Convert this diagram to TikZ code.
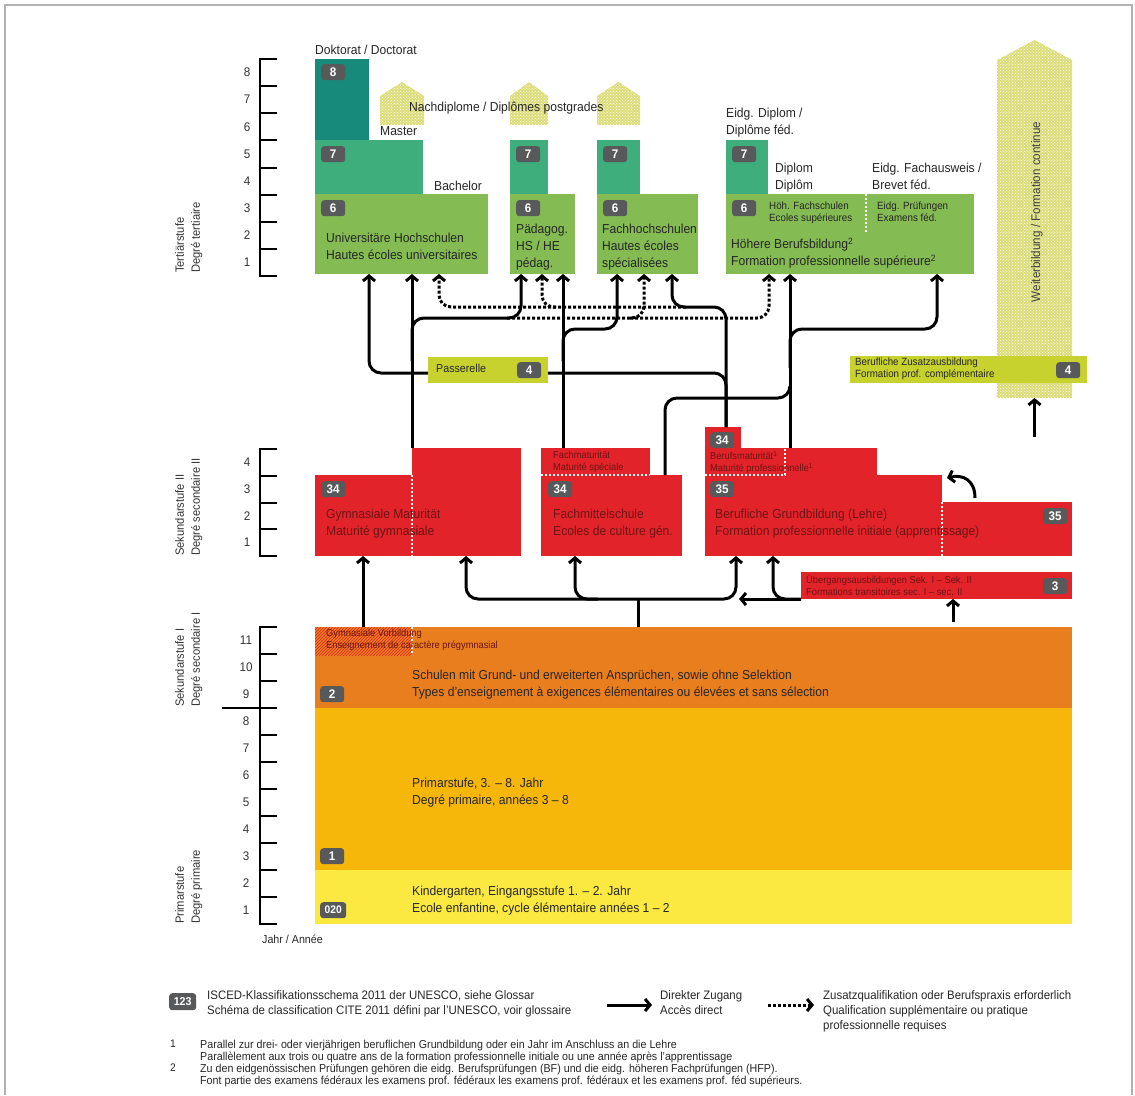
\documentclass[tikz,border=0pt]{standalone}
\usepackage{fontspec}
\setmainfont{Liberation Sans}[FakeStretch=0.93]
\usetikzlibrary{arrows.meta,patterns,calc}
\definecolor{tealdark}{HTML}{178A7B}
\definecolor{greenmid}{HTML}{3DAE7C}
\definecolor{greenlight}{HTML}{84BB53}
\definecolor{redbox}{HTML}{E2232A}
\definecolor{reddark}{HTML}{6E1414}
\definecolor{orangebox}{HTML}{E87E1E}
\definecolor{amberbox}{HTML}{F6B70A}
\definecolor{yellowbox}{HTML}{FBE941}
\definecolor{limebox}{HTML}{C8D22F}
\definecolor{hatchyellow}{HTML}{DCDC78}
\definecolor{badgegray}{HTML}{58595B}

\begin{document}
\begin{tikzpicture}[x=1pt,y=-1pt,>={Straight Barb[length=5pt,width=12pt]},
  blk/.style={inner sep=0pt, outer sep=0pt, anchor=north west},
  badge/.style={fill=badgegray, rounded corners=3pt, text=white,
    font=\fontsize{12.5}{12.5}\selectfont\bfseries, minimum width=24,
    minimum height=16, inner sep=0pt, anchor=north west},
  txt/.style={anchor=north west, inner sep=0pt, align=left, text=black!85,
    font=\fontsize{13}{17}\selectfont},
  small/.style={txt, font=\fontsize{10.5}{12}\selectfont},
  tiny/.style={txt, font=\fontsize{10}{12}\selectfont},
  num/.style={font=\fontsize{12.5}{12.5}\selectfont, text=black!80},
  stage/.style={rotate=90, anchor=north west, align=left, inner sep=0pt,
    font=\fontsize{12}{16}\selectfont, text=black!80},
  conn/.style={line width=3pt, rounded corners=12pt},
  dconn/.style={conn, dash pattern=on 3pt off 2pt},
  wdot/.style={white, line width=2pt, dash pattern=on 2pt off 2pt},
  hatchfill/.style={fill=hatchyellow, postaction={pattern=crosshatch dots, pattern color=white}},
  tick/.style={line width=2pt}]

\useasboundingbox (0,0) rectangle (1135,1095);
\draw[gray!60, line width=1.5pt] (5,1095) -- (5,5) -- (1132,5) -- (1132,1095);

% --- scales
\draw[tick] (277,59) -- (260,59) -- (260,276) -- (277,276);
\foreach \n in {1,...,7} \draw[tick] (260,59+27.125*\n) -- (277,59+27.125*\n);
\foreach \n in {1,...,8} \node[num] at (247,276-27.125*\n+13.56) {\n};
\draw[tick] (277,449) -- (260,449) -- (260,556) -- (277,556);
\foreach \n in {1,2,3} \draw[tick] (260,556-26.75*\n) -- (277,556-26.75*\n);
\foreach \n in {1,...,4} \node[num] at (247,556-26.75*\n+13.4) {\n};
\draw[tick] (277,627) -- (260,627) -- (260,924) -- (277,924);
\foreach \n in {1,...,10} \draw[tick] (260,924-27*\n) -- (277,924-27*\n);
\draw[tick] (222,708) -- (260,708);
\foreach \n in {1,...,11} \node[num] at (246,924-27*\n+13.5) {\n};
\node[txt, font=\fontsize{11.5}{13}\selectfont] (jahr) at (262,935) {Jahr / Année};

\node[stage] (ter) at (175,273) {Tertiärstufe\\Degré tertiaire};
\node[stage] (sek2) at (175,556) {Sekundarstufe II\\Degré secondaire II};
\node[stage] (sek1) at (175,707) {Sekundarstufe I\\Degré secondaire I};
\node[stage] (primst) at (175,924) {Primarstufe\\Degré primaire};

% --- Weiterbildung column
\fill[hatchfill] (997,398) -- (997,60) -- (1034.5,40) -- (1072,60) -- (1072,398) -- cycle;
\node[rotate=90, font=\fontsize{12.5}{14}\selectfont, text=black!75] (wbtxt) at (1037,212)
  {Weiterbildung / Formation continue};

% --- tertiary
\fill[hatchfill] (380,125) -- (380,96) -- (402,82) -- (424,96) -- (424,125) -- cycle;
\fill[hatchfill] (510,125) -- (510,96) -- (529,82) -- (548,96) -- (548,125) -- cycle;
\fill[hatchfill] (597,125) -- (597,96) -- (618.5,82) -- (640,96) -- (640,125) -- cycle;
\node[txt] (nachd) at (409,102) {Nachdiplome / Diplômes postgrades};

\node[blk, fill=tealdark, minimum width=54, minimum height=81] (unidr) at (315,59) {};
\node[blk, fill=greenmid, minimum width=108, minimum height=54] (unima) at (315,140) {};
\node[blk, fill=greenlight, minimum width=173, minimum height=80] (uniba) at (315,194) {};
\node[badge] at (321,64) {8};
\node[badge] at (321,146) {7};
\node[badge] at (321,200) {6};
\node[txt] (doktor) at (315,45) {Doktorat / Doctorat};
\node[txt] (master) at (380,126) {Master};
\node[txt] (bachel) at (434,181) {Bachelor};
\node[txt] at (326,233) {Universitäre Hochschulen\\Hautes écoles universitaires};

\node[blk, fill=greenmid, minimum width=38, minimum height=54] (padma) at (510,140) {};
\node[blk, fill=greenlight, minimum width=65, minimum height=80] (padba) at (510,194) {};
\node[badge] at (516,146) {7};
\node[badge] at (516,200) {6};
\node[txt] at (516,224) {Pädagog.\\HS / HE\\pédag.};

\node[blk, fill=greenmid, minimum width=43, minimum height=54] (fhma) at (597,140) {};
\node[blk, fill=greenlight, minimum width=101, minimum height=80] (fhba) at (597,194) {};
\node[badge] at (603,146) {7};
\node[badge] at (603,200) {6};
\node[txt] at (602,224) {Fachhochschulen\\Hautes écoles\\spécialisées};

\node[blk, fill=greenmid, minimum width=42, minimum height=54] (hbbma) at (726,140) {};
\node[blk, fill=greenlight, minimum width=248, minimum height=80] (hbbba) at (726,194) {};
\draw[wdot] (866,194) -- (866,232);
\node[badge] at (732,146) {7};
\node[badge] at (732,200) {6};
\node[txt] at (726,108) {Eidg. Diplom /\\Diplôme féd.};
\node[txt] at (775,163) {Diplom\\Diplôm};
\node[txt] at (872,163) {Eidg. Fachausweis /\\Brevet féd.};
\node[small] at (769,202) {Höh. Fachschulen\\Ecoles supérieures};
\node[small] at (877,202) {Eidg. Prüfungen\\Examens féd.};
\node[txt] at (731,238) {Höhere Berufsbildung\textsuperscript{2}\\Formation professionnelle supérieure\textsuperscript{2}};

% --- secondary II
\node[blk, fill=redbox, minimum width=97, minimum height=81] (gymma) at (315,475) {};
\node[blk, fill=redbox, minimum width=109, minimum height=108] (gymup) at (412,448) {};
\draw[wdot] (412,475) -- (412,556);
\node[badge] at (321,481) {34};
\node[txt, text=reddark] at (326,509) {Gymnasiale Maturität\\Maturité gymnasiale};

\node[blk, fill=redbox, minimum width=109, minimum height=27] (fmup) at (541,448) {};
\node[blk, fill=redbox, minimum width=141, minimum height=81] (fms) at (541,475) {};
\draw[wdot] (541,475) -- (650,475);
\node[badge] at (548,481) {34};
\node[tiny, text=reddark] at (553,451) {Fachmaturität\\Maturité spéciale};
\node[txt, text=reddark] at (553,509) {Fachmittelschule\\Ecoles de culture gén.};

\node[blk, fill=redbox, minimum width=36, minimum height=21] (bm34) at (705,427) {};
\node[blk, fill=redbox, minimum width=172, minimum height=27] (bmup) at (705,448) {};
\node[blk, fill=redbox, minimum width=237, minimum height=81] (bg) at (705,475) {};
\node[blk, fill=redbox, minimum width=130, minimum height=54] (bgr) at (942,502) {};
\draw[wdot] (705,475) -- (785,475) -- (785,448);
\draw[wdot] (942,502) -- (942,556);
\node[badge] at (710,432) {34};
\node[badge] at (710,481) {35};
\node[badge] at (1043,508) {35};
\node[tiny, text=reddark] at (710,451) {Berufsmaturität\textsuperscript{1}\\Maturité professionnelle\textsuperscript{1}};
\node[txt, text=reddark] at (715,509) {Berufliche Grundbildung (Lehre)\\Formation professionnelle initiale (apprentissage)};

\node[blk, fill=redbox, minimum width=271, minimum height=27] (ueb) at (801,572) {};
\node[badge] at (1043,578) {3};
\node[tiny, text=reddark] at (806,575) {Übergangsausbildungen Sek. I – Sek. II\\Formations transitoires sec. I – sec. II};

% --- secondary I and primary
\node[blk, fill=orangebox, minimum width=757, minimum height=81] (sekI) at (315,627) {};
\fill[pattern=north east lines, pattern color=redbox] (315,627) rectangle (412,655);
\draw[wdot] (412,627) -- (412,655);
\node[tiny, text=reddark] at (326,629) {Gymnasiale Vorbildung\\Enseignement de caractère prégymnasial};
\node[badge] at (320,686) {2};
\node[txt] at (412,670) {Schulen mit Grund- und erweiterten Ansprüchen, sowie ohne Selektion\\Types d'enseignement à exigences élémentaires ou élevées et sans sélection};

\node[blk, fill=amberbox, minimum width=757, minimum height=162] (prim) at (315,708) {};
\node[badge] at (320,848) {1};
\node[txt] at (412,778) {Primarstufe, 3. – 8. Jahr\\Degré primaire, années 3 – 8};
\node[blk, fill=yellowbox, minimum width=757, minimum height=54] (kg) at (315,870) {};
\node[badge, minimum width=26, font=\fontsize{11}{11}\selectfont\bfseries] at (320,902) {020};
\node[txt] at (412,886) {Kindergarten, Eingangsstufe 1. – 2. Jahr\\Ecole enfantine, cycle élémentaire années 1 – 2};

% --- connector end points
\coordinate (uniA) at ($(uniba.south west)+(54,0)$);
\coordinate (uniB) at ($(uniba.south west)+(97,0)$);
\coordinate (uniC) at ($(uniba.south west)+(124,0)$);
\coordinate (padA) at ($(padba.south west)+(11,0)$);
\coordinate (padB) at ($(padba.south west)+(32,0)$);
\coordinate (padC) at ($(padba.south west)+(53,0)$);
\coordinate (fhA) at ($(fhba.south west)+(20,0)$);
\coordinate (fhB) at ($(fhba.south west)+(47,0)$);
\coordinate (fhC) at ($(fhba.south west)+(75,0)$);
\coordinate (hbbA) at ($(hbbba.south west)+(43,0)$);
\coordinate (hbbB) at ($(hbbba.south west)+(64,0)$);
\coordinate (hbbC) at ($(hbbba.south west)+(211,0)$);
\coordinate (gymB) at (gymup.north west);
\coordinate (fmA) at ($(fmup.north west)+(22,0)$);
\coordinate (fmsB) at ($(fms.north west)+(124,0)$);
\coordinate (bmA) at ($(bm34.north west)+(21,0)$);
\coordinate (bmB) at ($(bmup.north west)+(85,0)$);
\coordinate (gymC) at ($(gymup.south west)+(54,0)$);
\coordinate (gymD) at ($(gymma.south west)+(48,0)$);
\coordinate (fmsC) at ($(fms.south west)+(34,0)$);
\coordinate (bgC) at ($(bg.south west)+(31,0)$);
\coordinate (bgD) at ($(bg.south west)+(68,0)$);
\coordinate (sekA) at ($(sekI.north west)+(48,0)$);
\coordinate (sekB) at ($(sekI.north west)+(323,0)$);
\coordinate (hub) at ($(sekB)+(0,-28)$);
\coordinate (uebA) at ($(ueb.south west)+(152,23)$);
\coordinate (wbbot) at (1034.5,398);
\coordinate (wbin) at (1034.5,437);
\coordinate (bgrA) at ($(bgr.north west)+(33,-4)$);
\coordinate (bgB) at ($(bg.north east)+(5,3)$);

% --- solid connectors
\draw[conn,->] (bmA) -- ++(0,-54) -| (uniA);
\draw[conn,->] (bmA) -- ++(0,-120) -| (fhC);
\draw[conn,->] (gymB) -- (uniB);
\draw[conn,->] ($(gymB)!0.5!(uniB)$) |- ($(padA)+(0,44)$) -- (padA);
\draw[conn,->] (fmA) -- (padC);
\draw[conn,->] ($(fmA)!0.5!(padC)$) |- ($(fhA)+(0,55)$) -- (fhA);
\draw[conn,->] (bmB) -- (hbbB);
\draw[conn,->] ($(bmB)+(0,-80)$) |- ($(hbbC)+(0,55)$) -- (hbbC);
\draw[conn] (fmsB) |- ($(bmB)+(0,-50)$) -- ++(0,-12);

% --- dotted connectors (branching off the solid ones)
\draw[dconn,->] ($(fhC)+(14,33)$) -| (padB);
\draw[dconn,->] ($(padB)+(14,33)$) -| (uniC);
\draw[dconn,->] ($(padA)+(-14,44)$) -| (fhB);
\draw[dconn,->] ($(fhB)+(-14,44)$) -| (hbbA);

% --- lower connectors
\draw[conn] (sekB) -- (hub);
\draw[conn,->] (hub) -| (gymC);
\draw[conn,->] ($(hub)+(-40,0)$) -| (fmsC);
\draw[conn,->] (hub) -| (bgC);
\draw[conn,->] (ueb.south west) -- ($(bgC)+(3,43)$);
\draw[conn,->] (ueb.south west) -| (bgD);
\draw[conn,->] (sekA) -- (gymD);
\draw[conn,->] (uebA) -- (uebA |- ueb.south);
\draw[conn,->] (wbin) -- (wbbot);
\draw[conn,->] (bgrA) .. controls ++(0,-18) and ++(16,-4) .. (bgB);

% --- Passerelle and Zusatzausbildung
\node[blk, fill=limebox, minimum width=120, minimum height=26] (pass) at (428,357) {};
\node[txt, font=\fontsize{11.5}{13}\selectfont] at (436,364) {Passerelle};
\node[badge] at (517,362) {4};
\node[blk, fill=limebox, minimum width=237, minimum height=27] (zus) at (850,356) {};
\node[small] at (855,358) {Berufliche Zusatzausbildung\\Formation prof. complémentaire};
\node[badge] at (1056,362) {4};

% --- legend
\node[badge, minimum width=27, minimum height=17, font=\fontsize{11.5}{11.5}\selectfont\bfseries] at (169,993) {123};
\node[txt, font=\fontsize{12.3}{15}\selectfont] at (207,990)
  {ISCED-Klassifikationsschema 2011 der UNESCO, siehe Glossar\\Schéma de classification CITE 2011 défini par l'UNESCO, voir glossaire};
\coordinate (lgA) at (607,1005);
\coordinate (lgB) at (652,1005);
\coordinate (lgC) at (768,1005);
\coordinate (lgD) at (814,1005);
\draw[conn,->] (lgA) -- (lgB);
\draw[dconn,->] (lgC) -- (lgD);
\node[txt, font=\fontsize{12.3}{15}\selectfont] at (660,990) {Direkter Zugang\\Accès direct};
\node[txt, font=\fontsize{12.3}{15}\selectfont] at (823,990)
  {Zusatzqualifikation oder Berufspraxis erforderlich\\Qualification supplémentaire ou pratique\\professionnelle requises};
\node[txt, font=\fontsize{11}{12}\selectfont] at (170,1040) {1\\\\2};
\node[txt, font=\fontsize{11.5}{12}\selectfont] at (200,1040)
  {Parallel zur drei- oder vierjährigen beruflichen Grundbildung oder ein Jahr im Anschluss an die Lehre\\
   Parallèlement aux trois ou quatre ans de la formation professionnelle initiale ou une année après l'apprentissage\\
   Zu den eidgenössischen Prüfungen gehören die eidg. Berufsprüfungen (BF) und die eidg. höheren Fachprüfungen (HFP).\\
   Font partie des examens fédéraux les examens prof. fédéraux les examens prof. fédéraux et les examens prof. féd supérieurs.};
\end{tikzpicture}
\end{document}
